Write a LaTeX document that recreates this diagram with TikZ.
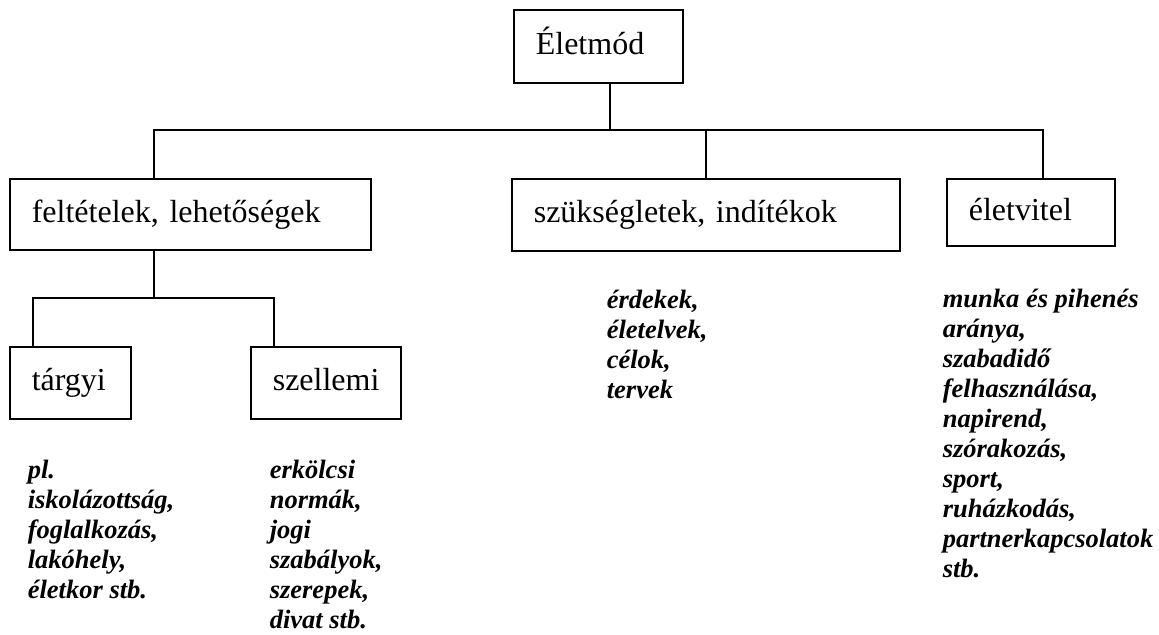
\documentclass[tikz,border=0pt]{standalone}
\usepackage{fontspec}
\setmainfont{Liberation Serif}
\usepackage{tikz}

\begin{document}
\begin{tikzpicture}[x=0.5pt,y=-0.5pt,line width=0.8pt,
		box/.style={draw,anchor=north west,align=left,inner xsep=11pt,inner ysep=0pt,text height=11pt,text depth=3pt,font=\fontsize{16}{19}\selectfont},
		list/.style={anchor=north west,align=left,inner sep=0pt,font=\fontsize{13.25}{15}\selectfont\bfseries\itshape}]
				\useasboundingbox (0,0) rectangle (1159,635);
				% boxes
				\node[box,text width=62.5pt,minimum height=36.5pt] (life) at (513,9) {Életmód};
				\node[box,text width=158.5pt,minimum height=35.5pt] (cond) at (9,178) {feltételek, lehetőségek};
				\node[box,text width=172pt,minimum height=36pt] (need) at (511,178) {szükségletek, indítékok};
				\node[box,text width=62pt,minimum height=33.5pt] (conduct) at (946,178) {életvitel};
				\node[box,text width=38.5pt,minimum height=36pt] (obj) at (9,346) {tárgyi};
				\node[box,text width=53pt,minimum height=36pt] (mind) at (250,346) {szellemi};
				
				% connectors
				\coordinate (hub) at (610,130);
				\coordinate (busL) at (154,130);
				\coordinate (busR) at (1043,130);
				\draw (hub |- life.south) -- (hub);
				\draw (busL |- cond.north) -- (busL) -- (busR) -- (busR |- conduct.north);
				\draw (need.north |- busL) -- (need.north);
				\coordinate (sub) at (154,298);
				\coordinate (subL) at (33,298);
				\coordinate (subR) at (274,298);
				\draw (sub |- cond.south) -- (sub);
				\draw (subL |- obj.north) -- (subL) -- (subR) -- (subR |- mind.north);
				
				% lists
				\node[list] (objlist) at (27,457) {\strut pl.\\ iskolázottság,\\ foglalkozás,\\ lakóhely,\\ életkor stb.};
				\node[list] (mindlist) at (269,457) {\strut erkölcsi\\ normák,\\ jogi\\ szabályok,\\ szerepek,\\ divat stb.};
				\node[list] (needlist) at (606,287) {\strut érdekek,\\ életelvek,\\ célok,\\ tervek};
				\node[list] (conductlist) at (942,286) {\strut munka és pihenés\\ aránya,\\ szabadidő\\ felhasználása,\\ napirend,\\ szórakozás,\\ sport,\\ ruházkodás,\\ partnerkapcsolatok\\ stb.};
			\end{tikzpicture}
\end{document}
